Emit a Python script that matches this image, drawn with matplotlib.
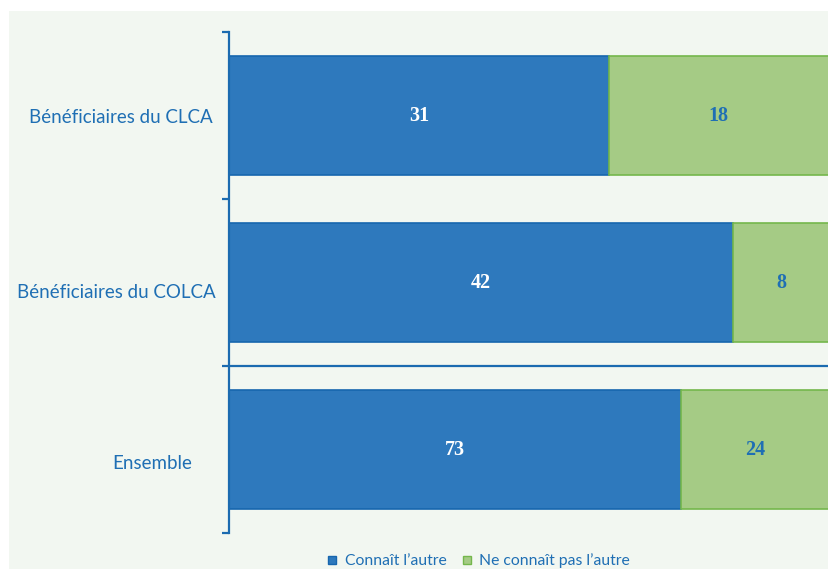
"""
Stacked bars: knows the other / does not know the other.
"""
import matplotlib.pyplot as plt
from matplotlib.lines import Line2D
from matplotlib.patches import Rectangle

# Data
categories = ["Bénéficiaires du CLCA", "Bénéficiaires du COLCA", "Ensemble"]
connait = [31, 42, 73]
ne_connait = [18, 8, 24]
legend_labels = ["Connaît l\u2019autre", "Ne connaît pas l\u2019autre"]

# Colours
BG = "#f2f7f1"
BLUE = "#2e79bd"
BLUE_EDGE = "#1766ae"
GREEN = "#a5cb85"
GREEN_EDGE = "#74b74c"
TEXT_BLUE = "#1f6fb4"
SPINE = "#1b6bb0"

plt.rcParams['font.family'] = ['Lato', 'DejaVu Sans']

fig = plt.figure(figsize=(8.29, 5.69), dpi=100)
fig.patch.set_facecolor("white")
# light panel behind the chart
fig.patches.append(Rectangle((9 / 829, 0), 1 - 9 / 829, 1 - 11 / 569,
                             transform=fig.transFigure, facecolor=BG,
                             edgecolor="none", zorder=-10))

ax = fig.add_axes([229 / 829, 1 - 533 / 569, 1 - 229 / 829, (533 - 32) / 569])
ax.set_facecolor("none")

# shares of each bar (100% stacked)
totals = [a + b for a, b in zip(connait, ne_connait)]
share_a = [a / t for a, t in zip(connait, totals)]
share_b = [b / t for b, t in zip(ne_connait, totals)]
ypos = list(range(len(categories)))
h = 0.713

ax.barh(ypos, share_a, height=h, color=BLUE, edgecolor=BLUE_EDGE, linewidth=1.2)
# green part runs slightly past the right edge, as in the original
ax.barh(ypos, [b + 0.01 for b in share_b], left=share_a, height=h, color=GREEN,
        edgecolor=GREEN_EDGE, linewidth=1.2, clip_on=True)

for i in ypos:
    ax.text(share_a[i] / 2, i, str(connait[i]), ha="center", va="center",
            color="white", fontsize=14.5, fontweight="bold",
            family="Liberation Serif")
    ax.text(share_a[i] + share_b[i] / 2, i, str(ne_connait[i]), ha="center",
            va="center", color=TEXT_BLUE, fontsize=14.5, fontweight="bold",
            family="Liberation Serif")

ax.set_xlim(0, 1)
ax.set_ylim(len(categories) - 0.5, -0.5)

# separator before "Ensemble"
ax.axhline(1.5, color=SPINE, linewidth=1.6)

for s in ["top", "right", "bottom"]:
    ax.spines[s].set_visible(False)
ax.spines["left"].set_color(SPINE)
ax.spines["left"].set_linewidth(1.6)
ax.set_xticks([])
ax.set_yticks([-0.5, 0.5, 1.5, 2.5])
ax.set_yticklabels([])
ax.tick_params(axis="y", length=5, width=1.6, color=SPINE, direction="out")

# category labels (placed by hand like the original)
offsets = [(-16, -1.5), (-13, -9.5), (-37, -14)]
for i, cat in enumerate(categories):
    ax.annotate(cat, xy=(0, i), xycoords=("axes fraction", "data"),
                xytext=offsets[i], textcoords="offset pixels",
                ha="right", va="center", color=TEXT_BLUE, fontsize=13.5)

# legend
handles = [Line2D([], [], marker="s", linestyle="none", markersize=6,
                  markerfacecolor=BLUE, markeredgecolor=BLUE_EDGE),
           Line2D([], [], marker="s", linestyle="none", markersize=6,
                  markerfacecolor=GREEN, markeredgecolor=GREEN_EDGE)]
leg = fig.legend(handles, legend_labels, loc="center",
                 bbox_to_anchor=(478 / 829, 1 - 561 / 569), ncol=2,
                 frameon=False, fontsize=11.3, handlelength=0.8,
                 handletextpad=0.4, columnspacing=0.9, borderpad=0)
for t in leg.get_texts():
    t.set_color(TEXT_BLUE)

fig.savefig("out.png", dpi=100, facecolor=fig.get_facecolor())
